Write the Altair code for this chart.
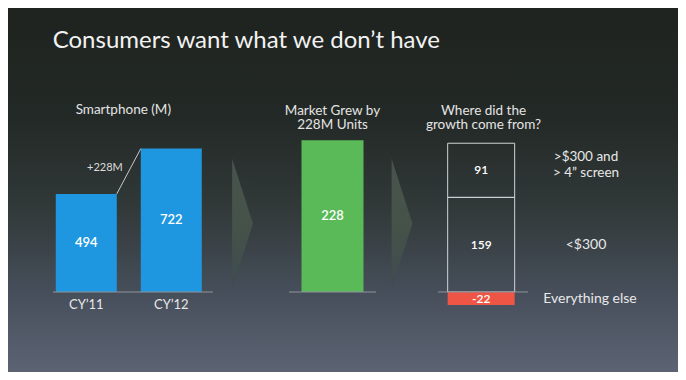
import altair as alt
import pandas as pd

# ---------------- data ----------------
years = ["CY\u201911", "CY\u201912"]
units = [494, 722]
growth_label = ["228"]
growth_value = [228]
segments = ["<$300", ">$300 and\n> 4\u201d screen"]
segment_values = [159, 91]
other_segment = ["Everything else"]
other_value = [-22]

FONT = "Lato"
TXT = "#f2f2f2"
H = 364

bg_grad = {"gradient": "linear", "x1": 0, "y1": 0, "x2": 0, "y2": 1,
           "stops": [{"offset": 0, "color": "#1e231f"},
                     {"offset": 0.3, "color": "#232926"},
                     {"offset": 0.55, "color": "#313939"},
                     {"offset": 0.8, "color": "#48505d"},
                     {"offset": 1, "color": "#5c6474"}]}
chev_grad = {"gradient": "linear", "x1": 0, "y1": 0, "x2": 0, "y2": 1,
             "stops": [{"offset": 0, "color": "#535e58"},
                       {"offset": 0.5, "color": "#4b5a4c"},
                       {"offset": 1, "color": "#3c4a4c"}]}

one = pd.DataFrame({"k": ["a"]})

# ---------------- panel 1: smartphone units ----------------
df1 = pd.DataFrame({"year": years, "units": units})
df1["mid"] = df1["units"] / 2
conn = pd.DataFrame({"from": [years[0]], "to": [years[1]],
                     "v0": [units[0]], "v1": [units[1]]})
conn["vm"] = (conn["v0"] + conn["v1"]) / 2
conn["lab"] = "+" + (conn["v1"] - conn["v0"]).astype(str) + "M"

x1 = alt.X("year:N", scale=alt.Scale(paddingInner=0.282, paddingOuter=0.347, align=0.81), axis=None)
y1s = alt.Scale(domain=[-402.8, 1430], nice=False, zero=False)

bg = alt.Chart(one).mark_rect(color=bg_grad).encode(
    x=alt.value(0), x2=alt.value(670), y=alt.value(0), y2=alt.value(H))
title = alt.Chart(one).mark_text(
    text="Consumers want what we don\u2019t have", align="left", baseline="alphabetic",
    fontSize=24, font=FONT, color=TXT).encode(x=alt.value(44.7), y=alt.value(40.3))
head1 = alt.Chart(one).mark_text(
    text="Smartphone (M)", align="center", baseline="middle", fontSize=13.5,
    font=FONT, color="#e4e4e4").encode(x=alt.value(115.3), y=alt.value(101.5))
bars1 = alt.Chart(df1).mark_bar(color="#1f97e0").encode(
    x=x1, y=alt.Y("units:Q", scale=y1s, axis=None))
vals1 = alt.Chart(df1).mark_text(font=FONT, fontSize=13, fontWeight=600, color="white").encode(
    x=x1, y=alt.Y("mid:Q", scale=y1s, axis=None), text="units:Q")
cats1 = alt.Chart(df1).mark_text(font=FONT, fontSize=13, color="#e8e8e8", baseline="middle", dy=13).encode(
    x=x1, y=alt.Y(datum=0, scale=y1s), text="year:N")
base1 = alt.Chart(one).mark_rule(color="#8e949c", strokeWidth=1).encode(
    y=alt.Y(datum=0, scale=y1s), x=alt.value(45), x2=alt.value(205))
link = alt.Chart(conn).mark_rule(color="#c8c8c8", strokeWidth=1).encode(
    x=alt.X("from:N", bandPosition=1), x2=alt.X2("to:N", bandPosition=0),
    y=alt.Y("v0:Q", scale=y1s), y2="v1:Q")
linklab = alt.Chart(conn).mark_text(font=FONT, fontSize=11, color="#dcdcdc", align="right", dx=6, dy=-3).encode(
    x=alt.X("from:N", bandPosition=1), y=alt.Y("vm:Q", scale=y1s), text="lab:N")

p1 = alt.layer(bg, title, head1, bars1, vals1, cats1, base1, link, linklab).properties(width=205, height=H)

# ---------------- chevrons ----------------
chev_shape = "M -0.16 -1 L 0.16 0 L -0.16 1 Z"
def chevron(w, cx):
    return alt.Chart(one).mark_point(shape=chev_shape, size=16900, filled=True, color=chev_grad,
                                     opacity=0.75, strokeWidth=0).encode(
        x=alt.value(cx), y=alt.value(215.5)).properties(width=w, height=H)
c1 = chevron(76, 29.5)
c2 = chevron(62, 26)

# ---------------- panel 2: market growth ----------------
df2 = pd.DataFrame({"k": growth_label, "v": growth_value})
df2["mid"] = df2["v"] / 2
x2s = alt.X("k:N", scale=alt.Scale(paddingInner=0, paddingOuter=0.2016), axis=None)
y2s = alt.Scale(domain=[-120.2, 426.8], nice=False, zero=False)
bar2 = alt.Chart(df2).mark_bar(color="#5bba58").encode(x=x2s, y=alt.Y("v:Q", scale=y2s, axis=None))
val2 = alt.Chart(df2).mark_text(font=FONT, fontSize=13, fontWeight=600, color="white").encode(
    x=x2s, y=alt.Y("mid:Q", scale=y2s, axis=None), text="v:Q")
base2 = alt.Chart(one).mark_rule(color="#8e949c", strokeWidth=1).encode(y=alt.Y(datum=0, scale=y2s))
head2 = alt.Chart(one).mark_text(
    text="Market Grew by\n228M Units", lineBreak="\n", lineHeight=14.5, align="center", baseline="middle",
    fontSize=13.5, font=FONT, color="#e4e4e4").encode(x=alt.value(43.5), y=alt.value(102.7))
p2 = alt.layer(bar2, val2, base2, head2).properties(width=87, height=H)

# ---------------- panel 3: where growth came from ----------------
df3 = pd.DataFrame({"seg": segments, "v": segment_values, "k": ["g", "g"], "idx": [0, 1]})
df3["top"] = df3["v"].cumsum()
df3["mid"] = df3["top"] - df3["v"] / 2
df3["lab"] = df3["v"].astype(str)
df4 = pd.DataFrame({"seg": other_segment, "v": other_value, "k": ["g"]})
df4["mid"] = df4["v"] / 2
df4["lab"] = df4["v"].astype(str)

x3s = alt.X("k:N", scale=alt.Scale(paddingInner=0, paddingOuter=0.1716, align=0.42), axis=None)
y3s = alt.Scale(domain=[-134.5, 477.3], nice=False, zero=False)
boxes = alt.Chart(df3).mark_bar(filled=False, color="#cfd3d6", strokeWidth=1).encode(
    x=x3s, y=alt.Y("v:Q", stack="zero", scale=y3s, axis=None), order=alt.Order("idx:Q"))
red = alt.Chart(df4).mark_bar(color="#ee5544").encode(x=x3s, y=alt.Y("v:Q", scale=y3s, axis=None))
vals3 = alt.Chart(pd.concat([df3, df4])).mark_text(font=FONT, fontSize=12, fontWeight=600, color="white").encode(
    x=x3s, y=alt.Y("mid:Q", scale=y3s, axis=None), text="lab:N")
base3 = alt.Chart(one).mark_rule(color="#8e949c", strokeWidth=1).encode(y=alt.Y(datum=0, scale=y3s))
head3 = alt.Chart(one).mark_text(
    text="Where did the\ngrowth come from?", lineBreak="\n", lineHeight=14.5, align="center", baseline="middle",
    fontSize=13.5, font=FONT, color="#e4e4e4").encode(x=alt.value(45.5), y=alt.value(102.7))
p3 = alt.layer(boxes, red, vals3, base3, head3).properties(width=90, height=H)

# ---------------- right labels ----------------
lab_top = alt.Chart(df3[df3["idx"] == 1]).mark_text(
    font=FONT, fontSize=13.5, color="#e8e8e8", lineBreak="\n", lineHeight=16.5, dy=-13.5).encode(
    x=alt.value(58), y=alt.Y("mid:Q", scale=y3s, axis=None), text="seg:N")
lab_mid = alt.Chart(df3[df3["idx"] == 0]).mark_text(
    font=FONT, fontSize=14, color="#e8e8e8").encode(
    x=alt.value(58), y=alt.Y("mid:Q", scale=y3s, axis=None), text="seg:N")
lab_bot = alt.Chart(df4).mark_text(
    font=FONT, fontSize=14, color="#e8e8e8").encode(
    x=alt.value(62), y=alt.Y("mid:Q", scale=y3s, axis=None), text="seg:N")
pr = alt.layer(lab_top, lab_mid, lab_bot).properties(width=150, height=H)

chart = alt.hconcat(p1, c1, p2, c2, p3, pr, spacing=0, bounds="flush").configure(
    background="#1e231f", padding=0).configure_view(stroke=None)

chart.save("out.html", embed_options={"renderer": "svg", "actions": False})
